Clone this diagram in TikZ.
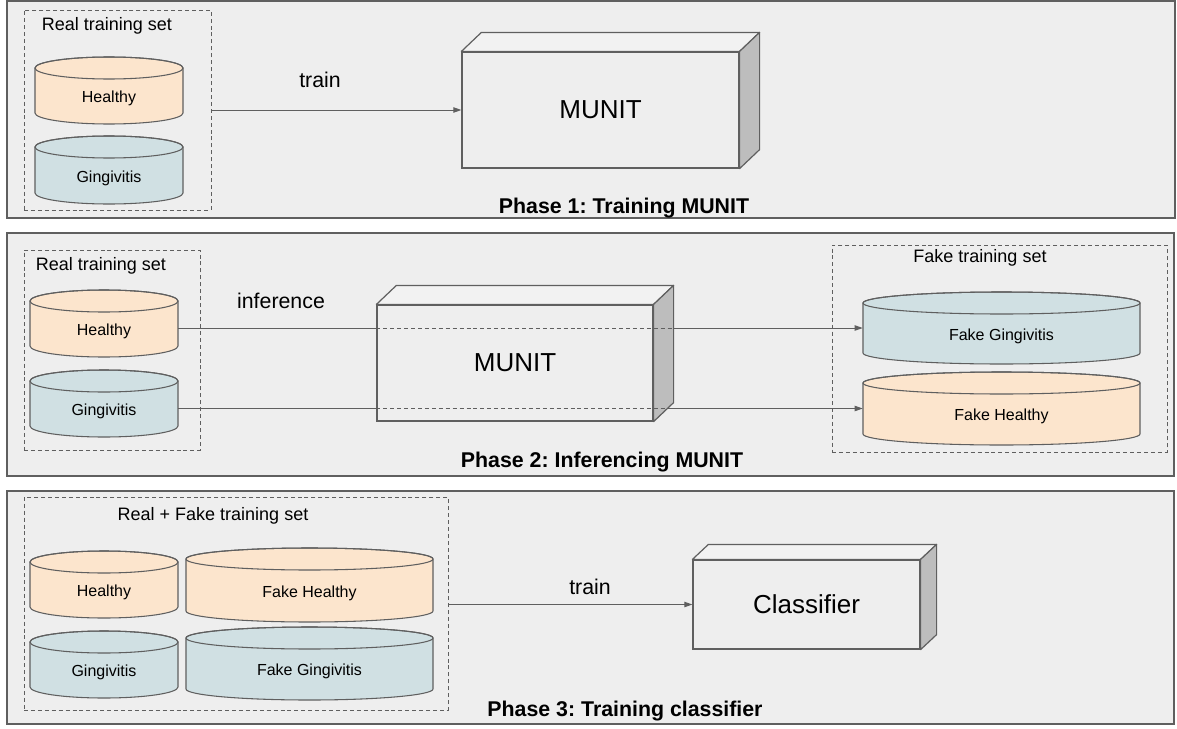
\documentclass[tikz,border=0pt]{standalone}
\usepackage{fontspec}
\setmainfont{Liberation Sans}
\usetikzlibrary{arrows.meta,calc}
\frenchspacing
\definecolor{panelbg}{HTML}{EEEEEE}
\definecolor{edge}{HTML}{5F5F5F}
\definecolor{healthyc}{HTML}{FCE5CD}
\definecolor{gingc}{HTML}{D0E0E3}
\definecolor{sidec}{HTML}{BDBDBD}
\definecolor{topc}{HTML}{F2F2F2}
\tikzset{
  panel/.style={draw=edge, fill=panelbg, line width=1.1pt, inner sep=0pt},
  groupbox/.style={draw=edge, line width=0.75pt, dash pattern=on 3pt off 2.2pt, inner sep=0pt},
  drumline/.style={draw=edge, line width=0.8pt},
  drumbox/.style={inner sep=0pt},
  drumtext/.style={font=\fontsize{12}{14}\selectfont, text=black, inner sep=0pt},
  slabface/.style={draw=edge, fill=panelbg, line width=0.9pt, inner sep=0pt, font=\fontsize{19.5}{22}\selectfont},
  slabline/.style={draw=edge, line width=0.9pt, line join=round},
  conn/.style={draw=edge, line width=0.75pt, -{Triangle[length=6pt,width=4pt]}},
  passline/.style={draw=edge, line width=0.75pt, dash pattern=on 3pt off 2.2pt},
  settitle/.style={font=\fontsize{13.5}{16}\selectfont, inner sep=0pt, anchor=base},
  verb/.style={font=\fontsize{16}{19}\selectfont, inner sep=0pt, anchor=base},
  phase/.style={font=\bfseries\fontsize{16}{19}\selectfont, inner sep=0pt, anchor=base},
}
\newcommand\rectnode[6]{%
  \node[#2, minimum width={(#5-#3)*0.75pt}, minimum height={(#6-#4)*0.75pt}] (#1) at ({(#3+#5)/2},{(#4+#6)/2}) {};}
\newcommand\drum[7]{%
  \path[drumline, fill=#6] (#2,#3+11) -- (#2,#5-11)
     arc[start angle=180, end angle=0, x radius={(#4-#2)/2}, y radius=11]
     -- (#4,#3+11)
     arc[start angle=0, end angle=-180, x radius={(#4-#2)/2}, y radius=11] -- cycle;
  \draw[drumline] ({(#2+#4)/2},#3+11) ellipse[x radius={(#4-#2)/2}, y radius=11];
  \rectnode{#1}{drumbox}{#2}{#3}{#4}{#5}
  \node[drumtext, anchor=base] (#1t) at ({(#2+#4)/2},{(#3+#5)/2+12}) {#7};}
\newcommand\slab[8]{%
  \node[slabface, minimum width={(#4-#2)*0.75pt}, minimum height={(#5-#3)*0.75pt}] (#1) at ({(#2+#4)/2},{(#3+#5)/2}) {#8};
  \filldraw[slabline, fill=topc] (#1.north west) -- ++(#6,#7) -- ($(#1.north east)+(#6,#7)$) -- (#1.north east) -- cycle;
  \filldraw[slabline, fill=sidec] (#1.north east) -- ++(#6,#7) -- ($(#1.south east)+(#6,#7)$) -- (#1.south east) -- cycle;}
\begin{document}
\begin{tikzpicture}[x=0.75pt, y=-0.75pt]
\useasboundingbox (0,0) rectangle (1177,728);
\fill[white] (0,0) rectangle (1177,728);
% ---------------- Phase 1 ----------------
\rectnode{p1}{panel}{7}{1}{1175}{218}
\rectnode{r1}{groupbox}{24}{10}{211}{210}
\node[settitle] (r1t) at (107,31) {Real training set};
\drum{h1}{35}{57}{183}{124}{healthyc}{Healthy}
\drum{g1}{35}{136}{183}{204}{gingc}{Gingivitis}
\slab{munit1}{462}{52}{739}{168}{20}{-19}{MUNIT}
\draw[conn] (munit1.west -| r1.east) -- (munit1.west);
\node[verb] (train1) at (320,87) {train};
\node[phase] (ph1) at (624,213) {Phase 1: Training MUNIT};
% ---------------- Phase 2 ----------------
\rectnode{p2}{panel}{7}{233}{1174}{476}
\rectnode{r2}{groupbox}{24}{250}{200}{450}
\node[settitle] (r2t) at (101,270) {Real training set};
\drum{h2}{30}{290}{178}{357}{healthyc}{Healthy}
\drum{g2}{30}{370}{178}{437}{gingc}{Gingivitis}
\rectnode{f2}{groupbox}{832}{245}{1167}{452}
\node[settitle] (f2t) at (980,262) {Fake training set};
\drum{fg2}{863}{292}{1140}{364}{gingc}{Fake Gingivitis}
\drum{fh2}{863}{372}{1140}{445}{healthyc}{Fake Healthy}
\draw[conn] (fg2.west -| h2.east) -- (fg2.west);
\draw[conn] (fh2.west -| g2.east) -- (fh2.west);
\slab{munit2}{377}{305}{653}{421}{20}{-19}{MUNIT}
\draw[passline] (fg2.west -| munit2.west) -- ($(fg2.west -| munit2.east)+(20,0)$);
\draw[passline] (fh2.west -| munit2.west) -- ($(fh2.west -| munit2.east)+(20,0)$);
\node[verb] (inf2) at (281,308) {inference};
\node[phase] (ph2) at (602,467) {Phase 2: Inferencing MUNIT};
% ---------------- Phase 3 ----------------
\rectnode{p3}{panel}{7}{491}{1174}{724}
\rectnode{r3}{groupbox}{24}{497}{448}{710}
\node[settitle] (r3t) at (213,520) {Real + Fake training set};
\drum{h3}{30}{551}{178}{618}{healthyc}{Healthy}
\drum{fh3}{186}{548}{433}{622}{healthyc}{Fake Healthy}
\drum{g3}{30}{631}{178}{698}{gingc}{Gingivitis}
\drum{fg3}{186}{627}{433}{700}{gingc}{Fake Gingivitis}
\slab{clf}{693}{560}{920}{649}{16}{-15}{Classifier}
\draw[conn] (clf.west -| r3.east) -- (clf.west);
\node[verb] (train3) at (590,594) {train};
\node[phase] (ph3) at (625,716) {Phase 3: Training classifier};
\end{tikzpicture}
\end{document}
